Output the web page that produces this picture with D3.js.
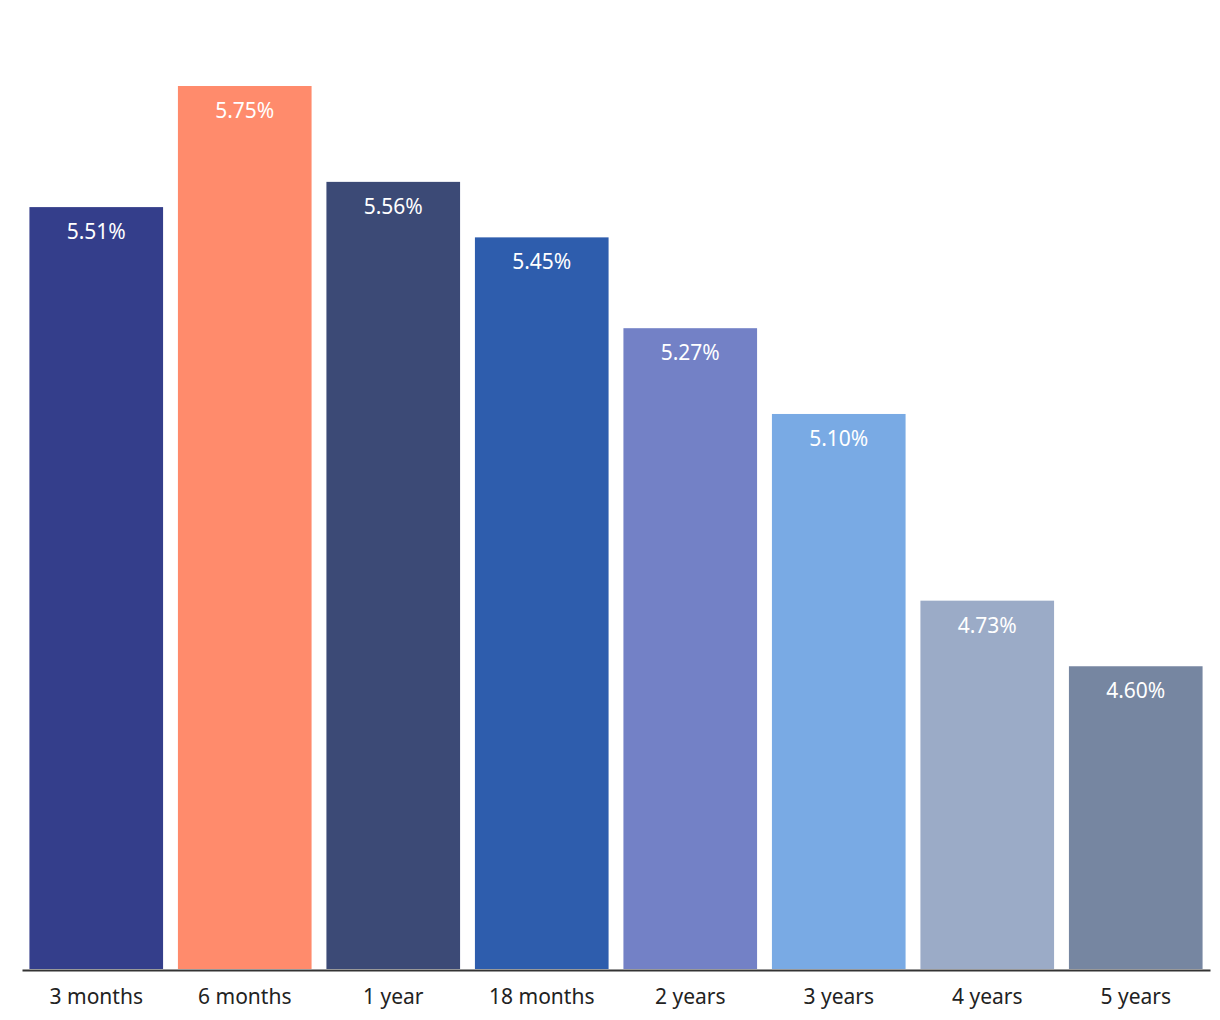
<!DOCTYPE html>
<meta charset="utf-8">
<style>
    body { margin: 0; background: #fff; }
    .bar-label { font: 21px "Noto Sans", sans-serif; fill: #fff; }
    .axis text { font: 21px "Noto Sans", sans-serif; fill: #222; }
    .axis path { stroke: #333; stroke-width: 2px; }
</style>
<body>
<script src="https://d3js.org/d3.v7.min.js"></script>
<script>
    // terms and rates
    var terms = ["3 months", "6 months", "1 year", "18 months", "2 years", "3 years", "4 years", "5 years"];
    var rates = [5.51, 5.75, 5.56, 5.45, 5.27, 5.10, 4.73, 4.60];
    var colors = ["#343e8b", "#ff8b6c", "#3c4a76", "#2e5dad", "#7381c6", "#79aae4", "#9babc7", "#7686a1"];

    var width = 1220, height = 1020;

    var svg = d3.select("body").append("svg")
        .attr("width", width)
        .attr("height", height);

    var x = d3.scaleBand()
        .domain(terms)
        .range([22, 1210])
        .paddingInner(0.1)
        .paddingOuter(0.05);

    // axis doesn't start at zero
    var y = d3.scaleLinear()
        .domain([4, 5.75])
        .range([969, 86]);

    var data = terms.map(function(t, i) { return {term: t, rate: rates[i], color: colors[i]}; });

    svg.selectAll(".bar")
        .data(data)
        .enter().append("rect")
        .attr("class", "bar")
        .attr("x", function(d) { return x(d.term); })
        .attr("y", function(d) { return y(d.rate); })
        .attr("width", x.bandwidth())
        .attr("height", function(d) { return y(4) - y(d.rate); })
        .attr("fill", function(d) { return d.color; });

    svg.selectAll(".bar-label")
        .data(data)
        .enter().append("text")
        .attr("class", "bar-label")
        .attr("x", function(d) { return x(d.term) + x.bandwidth() / 2; })
        .attr("y", function(d) { return y(d.rate) + 32; })
        .attr("text-anchor", "middle")
        .text(function(d) { return d.rate.toFixed(2) + "%"; });

    svg.append("g")
        .attr("class", "axis")
        .attr("transform", "translate(0,970)")
        .call(d3.axisBottom(x).tickSize(0).tickSizeOuter(0).tickPadding(19))
        .call(function(g) { g.selectAll("text").attr("dy", "0.71em"); });
</script>
</body>
